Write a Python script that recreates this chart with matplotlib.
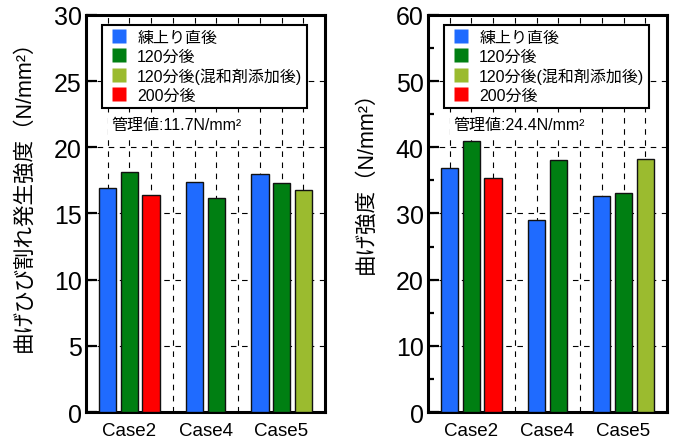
import matplotlib
matplotlib.use('Agg')
import matplotlib.pyplot as plt
from matplotlib.lines import Line2D
from matplotlib.ticker import MultipleLocator, FixedLocator, NullFormatter

# polices : latin puis japonais
plt.rcParams['font.family'] = ['Liberation Sans', 'Noto Sans CJK JP']

# donnees
cas = ['Case2', 'Case4', 'Case5']
noms_series = ['練上り直後', '120分後', '120分後(混和剤添加後)', '200分後']
couleurs = ['#1f6bff', '#007f12', '#9bbb2f', '#ff0000']

# graphe gauche : 曲げひび割れ発生強度
fiss_direct = [16.9, 17.4, 18.0]
fiss_120 = [18.1, 16.2, 17.3]
fiss_120_adj = [None, None, 16.8]
fiss_200 = [16.4, None, None]

# graphe droit : 曲げ強度
flex_direct = [36.8, 29.0, 32.7]
flex_120 = [41.0, 38.1, 33.1]
flex_120_adj = [None, None, 38.2]
flex_200 = [35.4, None, None]

seuils = [11.7, 24.4]


def trace(ax, series, ymax, pas_maj, pas_min, ylabel, ypos_label, seuil):
    # position des barres : une case vide entre les groupes
    pos = 1
    centres = []
    for i in range(len(cas)):
        debut = pos
        for j, s in enumerate(series):
            if s[i] is not None:
                ax.bar(pos, s[i], width=0.8, color=couleurs[j], edgecolor='#111111', lw=1.0, zorder=3)
                pos += 1
        centres.append((debut + pos - 1) / 2)
        pos += 1
    ax.set_xlim(0, pos - 1)
    ax.set_ylim(0, ymax)

    # grille en pointilles sur chaque case, noms des cas en graduations mineures
    ax.xaxis.remove_overlapping_locs = False
    ax.xaxis.set_major_locator(FixedLocator(range(1, pos - 1)))
    ax.xaxis.set_major_formatter(NullFormatter())
    ax.xaxis.set_minor_locator(FixedLocator(centres))
    ax.set_xticklabels(cas, minor=True, fontsize=13.5)
    ax.tick_params(axis='x', which='both', length=0, pad=7)
    ax.yaxis.set_major_locator(MultipleLocator(pas_maj))
    if pas_min:
        ax.yaxis.set_minor_locator(MultipleLocator(pas_min))
    ax.tick_params(axis='y', which='major', direction='in', length=8, width=1.6, labelsize=18, pad=3)
    ax.tick_params(axis='y', which='minor', direction='in', length=4, width=1.6)
    ax.grid(True, which='major', color='black', linestyle=(0, (5, 5)), lw=0.8)
    ax.set_axisbelow(True)
    for sp in ax.spines.values():
        sp.set_linewidth(2.2)
    ax.set_ylabel(ylabel, fontsize=15.5)
    ax.yaxis.set_label_coords(-0.215, ypos_label)

    # legende avec carres de couleur
    poignees = [Line2D([], [], ls='none', marker='s', markersize=10, markerfacecolor=c,
                       markeredgecolor='none') for c in couleurs]
    leg = ax.legend(poignees, noms_series, loc='upper left', bbox_to_anchor=(0.067, 0.975),
                    borderaxespad=0, fontsize=11.5, handlelength=1.5, handleheight=0.8,
                    handletextpad=0.4, labelspacing=0.25, borderpad=0.3,
                    fancybox=False, framealpha=1, edgecolor='black')
    leg.get_frame().set_linewidth(1.5)
    leg.set_zorder(5)

    ax.text(0.105, 0.723, '管理値:%.1fN/mm²' % seuil, transform=ax.transAxes, fontsize=11.5,
            va='center', ha='left', zorder=5,
            bbox=dict(facecolor='white', edgecolor='none', pad=2))


fig = plt.figure(figsize=(6.75, 4.39), dpi=100)
ax1 = fig.add_axes([0.1274, 0.0592, 0.3541, 0.9044])
ax2 = fig.add_axes([0.634, 0.0592, 0.3541, 0.9044])

trace(ax1, [fiss_direct, fiss_120, fiss_120_adj, fiss_200], 30, 5, None,
      '曲げひび割れ発生強度（N/mm²）', 0.559, seuils[0])
trace(ax2, [flex_direct, flex_120, flex_120_adj, flex_200], 60, 10, 5,
      '曲げ強度（N/mm²）', 0.593, seuils[1])

fig.savefig('out.png', dpi=100)
